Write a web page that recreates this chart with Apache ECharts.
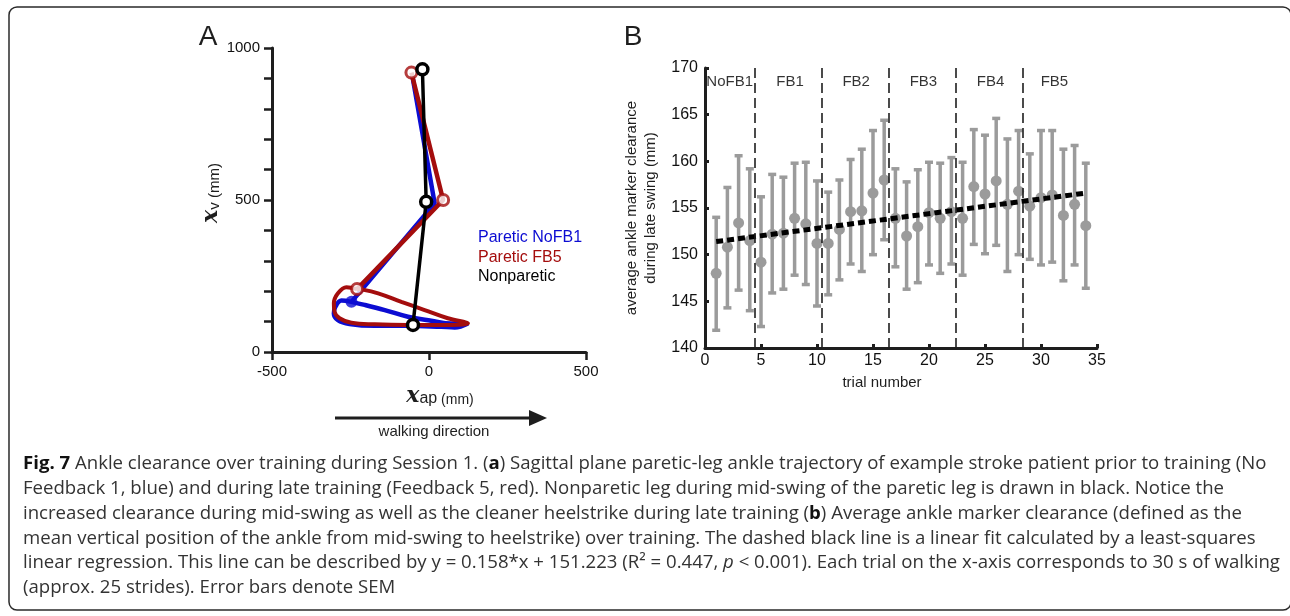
<!DOCTYPE html>
<html>
<head>
<meta charset="utf-8">
<script src="https://cdn.jsdelivr.net/npm/echarts@6/dist/echarts.min.js"></script>
<style>
  html, body { margin: 0; padding: 0; background: #fff; }
  #chart { width: 1290px; height: 616px; }
</style>
</head>
<body>
<div id="chart"></div>
<script>
// Panel A: sagittal ankle trajectory, [x_ap, x_v] in mm
const blueSwing = [[-53, 908], [18, 489], [-247, 165]];
const blueLoop = [[-247, 165], [-279, 169], [-298, 149], [-303, 127], [-290, 105], [-253, 92], [-173, 86],
  [-67, 86], [39, 83], [82, 81], [124, 94], [71, 94], [7, 103], [-67, 116], [-141, 138], [-205, 155], [-247, 165]];
const redSwing = [[-56, 919], [45, 500], [-229, 207]];
const redLoop = [[-229, 207], [-263, 213], [-290, 193], [-303, 160], [-301, 133], [-285, 111], [-247, 96],
  [-173, 91], [-67, 89], [39, 89], [124, 94], [60, 111], [-14, 138], [-88, 165], [-162, 193], [-216, 206], [-229, 207]];
const blackSwing = [[-21, 930], [-9, 494], [-51, 89]];

// Panel B: clearance per trial (mm)
const trials = [1, 2, 3, 4, 5, 6, 7, 8, 9, 10, 11, 12, 13, 14, 15, 16, 17,
  18, 19, 20, 21, 22, 23, 24, 25, 26, 27, 28, 29, 30, 31, 32, 33, 34];
const clearanceMean = [148.0, 150.8, 153.4, 151.5, 149.2, 152.2, 152.3, 153.9, 153.3, 151.2, 151.2, 152.7,
  154.6, 154.7, 156.6, 158.0, 153.9, 152.0, 153.0, 154.5, 153.9, 154.6, 153.9, 157.3, 156.5, 157.9,
  155.4, 156.8, 155.2, 156.1, 156.4, 154.2, 155.4, 153.1];
const clearanceHigh = [154.0, 157.2, 160.6, 159.2, 156.2, 158.6, 158.3, 159.8, 159.9, 157.9, 156.7, 158.0,
  160.2, 161.3, 163.3, 164.4, 159.2, 157.8, 159.1, 159.9, 159.8, 160.4, 159.9, 163.4, 162.8, 164.6,
  162.4, 163.3, 160.8, 163.3, 163.3, 161.3, 161.7, 159.8];
const clearanceLow = [141.9, 144.3, 146.2, 144.0, 142.3, 145.9, 146.3, 147.8, 146.8, 144.5, 145.7, 147.3,
  149.0, 148.2, 150.0, 151.6, 148.7, 146.3, 147.0, 148.9, 148.0, 149.0, 147.8, 151.1, 150.1, 151.0,
  148.2, 150.0, 149.5, 148.9, 149.2, 147.2, 148.9, 146.4];
const fitLine = [[1, 151.4], [34, 156.6]];
const blockEdges = [4.4, 10.4, 16.4, 22.4, 28.4];
const blockNames = ['NoFB1', 'FB1', 'FB2', 'FB3', 'FB4', 'FB5'];
const blockCentres = [2.2, 7.6, 13.5, 19.5, 25.5, 31.2];
const blockLabelY = 168.5;

const captionLines = [
  '{b|Fig. 7} Ankle clearance over training during Session 1. ({b|a}) Sagittal plane paretic-leg ankle trajectory of example stroke patient prior to training (No',
  'Feedback 1, blue) and during late training (Feedback 5, red). Nonparetic leg during mid-swing of the paretic leg is drawn in black. Notice the',
  'increased clearance during mid-swing as well as the cleaner heelstrike during late training ({b|b}) Average ankle marker clearance (defined as the',
  'mean vertical position of the ankle from mid-swing to heelstrike) over training. The dashed black line is a linear fit calculated by a least-squares',
  'linear regression. This line can be described by y = 0.158*x + 151.223 (R\u00b2 = 0.447, {i|p} < 0.001). Each trial on the x-axis corresponds to 30 s of walking',
  '(approx. 25 strides). Error bars denote SEM'
];

const BLUE = '#0c0cd2';
const RED = '#a40d0d';
const GREY = '#9b9b9b';
const INK = '#1e1e1e';
const sans = '"Liberation Sans", Arial, sans-serif';
const capFont = '"Open Sans", "Noto Sans", sans-serif';
const capSize = 18.6;

const chart = echarts.init(document.getElementById('chart'));

function renderErrorBar(params, api) {
  const x = api.value(0);
  const lo = api.coord([x, api.value(1)]);
  const hi = api.coord([x, api.value(2)]);
  const half = 4;
  const style = { stroke: GREY, lineWidth: 3.5 };
  return {
    type: 'group',
    children: [
      { type: 'line', shape: { x1: lo[0], y1: lo[1], x2: hi[0], y2: hi[1] }, style },
      { type: 'line', shape: { x1: hi[0] - half, y1: hi[1], x2: hi[0] + half, y2: hi[1] }, style },
      { type: 'line', shape: { x1: lo[0] - half, y1: lo[1], x2: lo[0] + half, y2: lo[1] }, style }
    ]
  };
}

const captionRich = {
  b: { fontFamily: capFont, fontSize: capSize, fontWeight: 'bold', fill: '#111' },
  i: { fontFamily: capFont, fontSize: capSize, fontStyle: 'italic', fill: '#333' }
};

const graphic = [
  { type: 'rect', shape: { x: 9, y: 7, width: 1282, height: 603, r: 8 },
    style: { fill: 'none', stroke: '#2a2a2a', lineWidth: 1.5 }, silent: true },
  { type: 'text', x: 208, y: 37, style: { text: 'A', fontFamily: sans, fontSize: 28, fill: INK, align: 'center', verticalAlign: 'middle' } },
  { type: 'text', x: 633, y: 37, style: { text: 'B', fontFamily: sans, fontSize: 28, fill: INK, align: 'center', verticalAlign: 'middle' } },
  { type: 'line', shape: { x1: 335, y1: 418, x2: 532, y2: 418 }, style: { stroke: INK, lineWidth: 3 } },
  { type: 'polygon', shape: { points: [[547, 418], [529, 410], [529, 426]] }, style: { fill: INK } },
  { type: 'text', x: 434, y: 432, style: { text: 'walking direction', fontFamily: sans, fontSize: 15, fill: INK, align: 'center', verticalAlign: 'middle' } }
];
captionLines.forEach((line, i) => {
  graphic.push({
    type: 'text', x: 23, y: 464 + i * 24.8,
    style: { text: line, fontFamily: capFont, fontSize: capSize, fill: '#333', verticalAlign: 'middle', rich: captionRich }
  });
});

const option = {
  animation: false,
  backgroundColor: '#fff',
  textStyle: { fontFamily: sans },
  graphic,
  legend: {
    orient: 'vertical',
    left: 467,
    top: 223,
    itemWidth: 0,
    itemHeight: 0,
    itemGap: 0,
    selectedMode: false,
    textStyle: { fontSize: 16, fontFamily: sans, lineHeight: 19.5 },
    data: [
      { name: 'Paretic NoFB1', textStyle: { color: BLUE } },
      { name: 'Paretic FB5', textStyle: { color: RED } },
      { name: 'Nonparetic', textStyle: { color: '#000' } }
    ]
  },
  grid: [
    { left: 272, top: 48, width: 314, height: 304 },
    { left: 705, top: 68, width: 392, height: 280 }
  ],
  xAxis: [
    {
      gridIndex: 0, type: 'value', min: -500, max: 500, interval: 500,
      axisLine: { onZero: false, lineStyle: { color: INK, width: 3 } },
      axisTick: { length: 8, lineStyle: { color: INK, width: 2.5 } },
      axisLabel: { fontSize: 15, color: '#111', margin: 12 },
      splitLine: { show: false },
      name: '{x|x}{s|ap}{u| (mm)}', nameLocation: 'middle', nameGap: 33,
      nameTextStyle: {
        padding: [0, 0, 0, 22],
        rich: {
          x: { fontFamily: 'DejaVu Serif', fontStyle: 'italic', fontWeight: 'bold', fontSize: 22, color: INK },
          s: { fontFamily: sans, fontSize: 16, color: INK, verticalAlign: 'bottom', padding: [6, 0, 0, 0] },
          u: { fontFamily: sans, fontSize: 14, color: INK, verticalAlign: 'bottom', padding: [6, 0, 0, 0] }
        }
      }
    },
    {
      gridIndex: 1, type: 'value', min: 0, max: 35, interval: 5,
      axisLine: { onZero: false, lineStyle: { color: INK, width: 3 } },
      axisTick: { inside: true, length: 4, lineStyle: { color: INK, width: 3 } },
      axisLabel: { fontSize: 16, color: '#111', margin: 5 },
      splitLine: { show: false },
      name: 'trial number', nameLocation: 'middle', nameGap: 27,
      nameTextStyle: { fontSize: 15, color: INK, padding: [0, 38, 0, 0] }
    }
  ],
  yAxis: [
    {
      gridIndex: 0, type: 'value', min: 0, max: 1000, interval: 100,
      axisLine: { onZero: false, lineStyle: { color: INK, width: 3 } },
      axisTick: { length: 8, lineStyle: { color: INK, width: 2.5 } },
      axisLabel: { fontSize: 15, color: '#111', margin: 12, formatter: v => (v % 500 === 0 ? String(v) : '') },
      splitLine: { show: false },
      name: '{x|x}{s|v}{u| (mm)}', nameLocation: 'middle', nameRotate: 90, nameGap: 46,
      nameTextStyle: {
        padding: [0, 0, 0, 14],
        rich: {
          x: { fontFamily: 'DejaVu Serif', fontStyle: 'italic', fontWeight: 'bold', fontSize: 22, color: INK },
          s: { fontFamily: sans, fontSize: 15, color: INK, verticalAlign: 'bottom', padding: [6, 0, 0, 0] },
          u: { fontFamily: sans, fontSize: 15, color: INK, verticalAlign: 'bottom', padding: [6, 0, 0, 0] }
        }
      }
    },
    {
      gridIndex: 1, type: 'value', min: 140, max: 170, interval: 5,
      axisLine: { onZero: false, lineStyle: { color: INK, width: 3 } },
      axisTick: { inside: true, length: 4, lineStyle: { color: INK, width: 3 } },
      axisLabel: { fontSize: 16, color: '#111', margin: 7 },
      splitLine: { show: false },
      name: 'average ankle marker clearance\nduring late swing (mm)', nameLocation: 'middle', nameRotate: 90, nameGap: 45,
      nameTextStyle: { fontSize: 15, color: INK, lineHeight: 19 }
    }
  ],
  series: [
    // Panel A
    { name: 'Paretic NoFB1', type: 'line', xAxisIndex: 0, yAxisIndex: 0, data: blueSwing, symbol: 'none',
      lineStyle: { color: BLUE, width: 4.5 }, itemStyle: { color: BLUE }, z: 2 },
    { name: 'Paretic NoFB1', type: 'line', xAxisIndex: 0, yAxisIndex: 0, data: blueLoop, symbol: 'none', smooth: 0.4,
      lineStyle: { color: BLUE, width: 4.5 }, itemStyle: { color: BLUE }, z: 2 },
    { type: 'scatter', xAxisIndex: 0, yAxisIndex: 0, data: [blueSwing[2]], symbolSize: 12,
      itemStyle: { color: BLUE }, z: 3 },
    { name: 'Paretic FB5', type: 'line', xAxisIndex: 0, yAxisIndex: 0, data: redSwing, symbol: 'none',
      lineStyle: { color: RED, width: 4.5 }, itemStyle: { color: RED }, z: 4 },
    { name: 'Paretic FB5', type: 'line', xAxisIndex: 0, yAxisIndex: 0, data: redLoop, symbol: 'none', smooth: 0.4,
      lineStyle: { color: RED, width: 4 }, itemStyle: { color: RED }, z: 4 },
    { type: 'scatter', xAxisIndex: 0, yAxisIndex: 0, data: redSwing, symbol: 'circle', symbolSize: 11,
      itemStyle: { color: '#fff', borderColor: RED, borderWidth: 3 }, z: 5 },
    { name: 'Nonparetic', type: 'line', xAxisIndex: 0, yAxisIndex: 0, data: blackSwing, symbol: 'circle', symbolSize: 11,
      lineStyle: { color: '#000', width: 3.5 }, itemStyle: { color: '#fff', borderColor: '#000', borderWidth: 3.5 }, z: 6 },

    // Panel B
    { type: 'custom', xAxisIndex: 1, yAxisIndex: 1, renderItem: renderErrorBar,
      data: trials.map((t, i) => [t, clearanceLow[i], clearanceHigh[i]]), encode: { x: 0, y: [1, 2] }, z: 2 },
    { type: 'scatter', xAxisIndex: 1, yAxisIndex: 1, symbolSize: 11,
      data: trials.map((t, i) => [t, clearanceMean[i]]), itemStyle: { color: GREY, opacity: 1 }, z: 3,
      markLine: {
        silent: true, symbol: ['none', 'none'], label: { show: false },
        lineStyle: { color: INK, width: 1.6, type: [10, 5] },
        data: blockEdges.map(v => ({ xAxis: v }))
      } },
    { type: 'line', xAxisIndex: 1, yAxisIndex: 1, data: fitLine, symbol: 'none',
      lineStyle: { color: '#000', width: 5, type: [7, 4] }, z: 4 },
    { type: 'scatter', xAxisIndex: 1, yAxisIndex: 1, symbolSize: 0,
      data: blockCentres.map((c, i) => ({ value: [c, blockLabelY], name: blockNames[i] })),
      label: { show: true, position: 'inside', formatter: p => p.name, fontSize: 15, color: '#000',
        fontFamily: sans, textBorderWidth: 0, textBorderColor: 'transparent' }, z: 5 }
  ]
};

chart.setOption(option);
</script>
</body>
</html>
